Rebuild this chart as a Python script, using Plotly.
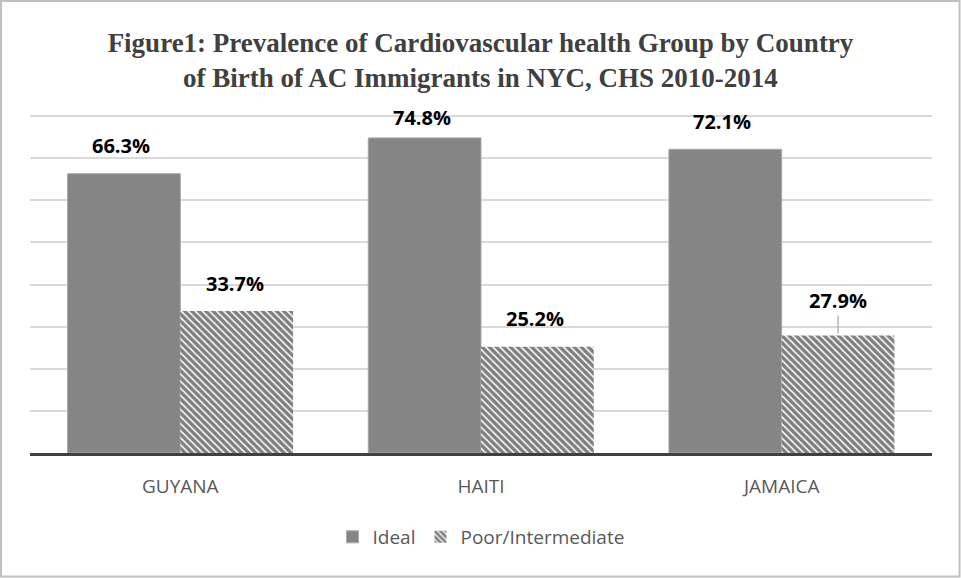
import plotly.graph_objects as go

countries = ["GUYANA", "HAITI", "JAMAICA"]
ideal = [66.3, 74.8, 72.1]
poor = [33.7, 25.2, 27.9]
series_names = ["Ideal", "Poor/Intermediate"]
title_lines = ["Figure1: Prevalence of Cardiovascular health Group by Country",
               "of Birth of AC Immigrants in NYC, CHS 2010-2014"]

W, H = 961, 578
ml, mr, mt, mb = 30, 29, 114, 125
pw, ph = W - ml - mr, H - mt - mb
px_per_unit = 337 / 80.0
ytop = ph / px_per_unit

fig = go.Figure()
fig.add_trace(go.Bar(
    x=countries, y=ideal, name=series_names[0],
    marker=dict(color="#858585", line=dict(color="#a8a8a8", width=1)),
))
fig.add_trace(go.Bar(
    x=countries, y=poor, name=series_names[1],
    marker=dict(color="white", line=dict(color="white", width=0),
                pattern=dict(shape="\\", fgcolor="black", bgcolor="white",
                             size=5, solidity=0.7)),
))

cat_w = pw / len(countries)
bar_off = cat_w * 0.75 / 4
label_font = dict(family="Open Sans", size=20, color="#000000")

annotations = []
for i, c in enumerate(countries):
    ys = 20 if ideal[i] > 74 else 28
    annotations.append(dict(x=c, y=ideal[i], xref="x", yref="y",
                            text=f"<b>{ideal[i]:.1f}%</b>", showarrow=False,
                            xshift=-bar_off - 3, yshift=ys, font=label_font))
for i, c in enumerate(countries):
    if c == "JAMAICA":
        annotations.append(dict(x=c, y=poor[i], xref="x", yref="y",
                                text=f"<b>{poor[i]:.1f}%</b>", showarrow=True,
                                arrowhead=0, arrowcolor="#a6a6a6", arrowwidth=1.2,
                                ax=0, ay=-35, xshift=bar_off, standoff=2,
                                font=label_font))
    else:
        annotations.append(dict(x=c, y=poor[i], xref="x", yref="y",
                                text=f"<b>{poor[i]:.1f}%</b>", showarrow=False,
                                xshift=bar_off - 2, yshift=28, font=label_font))

fig.update_layout(
    width=W, height=H,
    margin=dict(l=ml, r=mr, t=mt, b=mb),
    paper_bgcolor="white", plot_bgcolor="white",
    barmode="group", bargap=0.25, bargroupgap=0,
    title=dict(text="<b>" + "<br>".join(title_lines) + "</b>",
               x=0.5, xanchor="center", y=1 - 52 / H, yanchor="middle",
               font=dict(family="Liberation Serif", size=27, color="#404040")),
    xaxis=dict(showline=True, linecolor="#404040", linewidth=3,
               tickfont=dict(family="Open Sans", size=19, color="#595959"),
               ticks="", ticklabelstandoff=14, showgrid=False),
    yaxis=dict(range=[0, ytop], tickvals=[10, 20, 30, 40, 50, 60, 70, 80],
               showticklabels=False,
               showgrid=True, gridcolor="#d9d9d9", gridwidth=1.5,
               zeroline=False, showline=False),
    legend=dict(orientation="h", x=0.5, xanchor="center",
                y=-(537 - (mt + ph)) / ph, yanchor="middle",
                font=dict(family="Open Sans", size=19, color="#595959"),
                itemwidth=30, traceorder="normal"),
    annotations=annotations,
    shapes=[dict(type="rect", xref="paper", yref="paper",
                 x0=(-ml + 1) / pw, x1=1 + (mr - 1.5) / pw,
                 y0=-(mb - 1.5) / ph, y1=1 + (mt - 1) / ph,
                 line=dict(color="#c0c0c0", width=2), layer="below")],
)

fig.write_html("out.html", config={"displayModeBar": False},
               post_script="document.body.style.margin='0';")
